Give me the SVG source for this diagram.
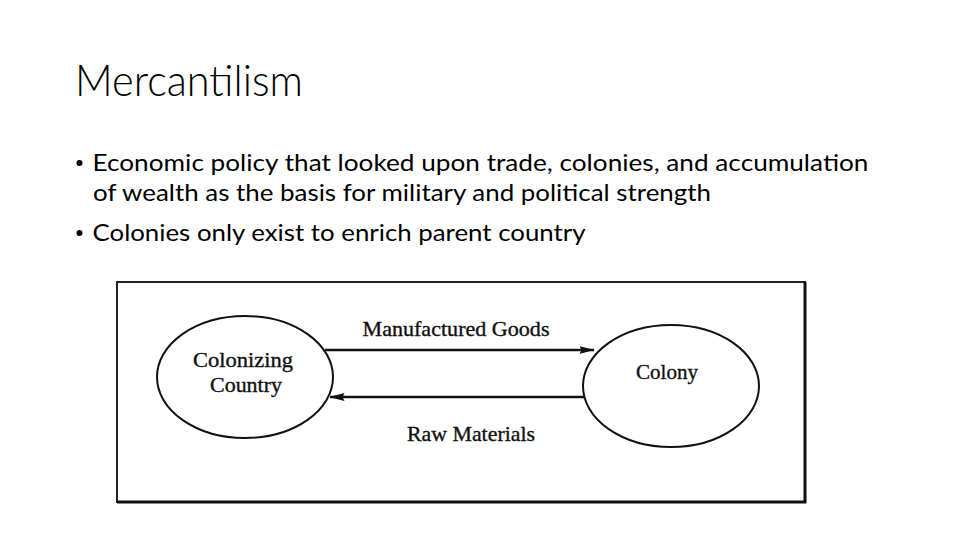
<svg xmlns="http://www.w3.org/2000/svg" width="960" height="540" viewBox="0 0 960 540">
  <defs>
    <style>
      .title { font-family: Lato, "Open Sans", "Liberation Sans", sans-serif; font-weight: 300; font-size: 44px; fill: #000; }
      .body { font-family: Lato, "Open Sans", "Liberation Sans", sans-serif; font-size: 24px; fill: #000; }
      .lbl { font-family: "Liberation Serif", "DejaVu Serif", serif; font-size: 21px; fill: #111; stroke: #111; stroke-width: 0.35; }
      .shape { fill: #fff; stroke: #111; stroke-width: 2; }
      .conn { stroke: #111; stroke-width: 2.4; fill: none; }
    </style>
    <marker id="arrow" viewBox="0 0 15 10" refX="14.5" refY="5" markerWidth="15" markerHeight="10" markerUnits="userSpaceOnUse" orient="auto">
      <path d="M0,1 L15,5 L0,9 L2,5 Z" fill="#111"/>
    </marker>
  </defs>
  <rect width="960" height="540" fill="#fff"/>

  <text class="title" x="75" y="96" textLength="228" lengthAdjust="spacingAndGlyphs">Mercantilism</text>

  <g id="bullets">
    <circle cx="79.5" cy="163" r="3" fill="#000"/>
    <text class="body" x="92.5" y="171" textLength="776" lengthAdjust="spacingAndGlyphs">Economic policy that looked upon trade, colonies, and accumulation</text>
    <text class="body" x="93" y="201" textLength="618" lengthAdjust="spacingAndGlyphs">of wealth as the basis for military and political strength</text>
    <circle cx="79.5" cy="233" r="3" fill="#000"/>
    <text class="body" x="92.5" y="241" textLength="493" lengthAdjust="spacingAndGlyphs">Colonies only exist to enrich parent country</text>
  </g>

  <g id="frame">
    <rect x="117" y="282" width="688" height="220" fill="none" stroke="#222" stroke-width="2"/>
    <polyline points="805,282 805,502 117,502" fill="none" stroke="#111" stroke-width="3"/>
  </g>

  <g id="colonizing-country">
    <ellipse class="shape" cx="245" cy="377" rx="88" ry="61"/>
    <text class="lbl" x="243" y="367" text-anchor="middle" textLength="100" lengthAdjust="spacingAndGlyphs">Colonizing</text>
    <text class="lbl" x="246" y="392" text-anchor="middle" textLength="72" lengthAdjust="spacingAndGlyphs">Country</text>
  </g>

  <g id="colony">
    <ellipse class="shape" cx="671" cy="386" rx="88" ry="61"/>
    <text class="lbl" x="667" y="379" text-anchor="middle" textLength="62" lengthAdjust="spacingAndGlyphs">Colony</text>
  </g>

  <g id="connectors">
    <line class="conn" x1="325" y1="350" x2="594" y2="350" marker-end="url(#arrow)"/>
    <line class="conn" x1="584" y1="397" x2="330" y2="397" marker-end="url(#arrow)"/>
    <text class="lbl" x="456" y="336" text-anchor="middle" textLength="187" lengthAdjust="spacingAndGlyphs">Manufactured Goods</text>
    <text class="lbl" x="471" y="441" text-anchor="middle" textLength="128" lengthAdjust="spacingAndGlyphs">Raw Materials</text>
  </g>
</svg>
